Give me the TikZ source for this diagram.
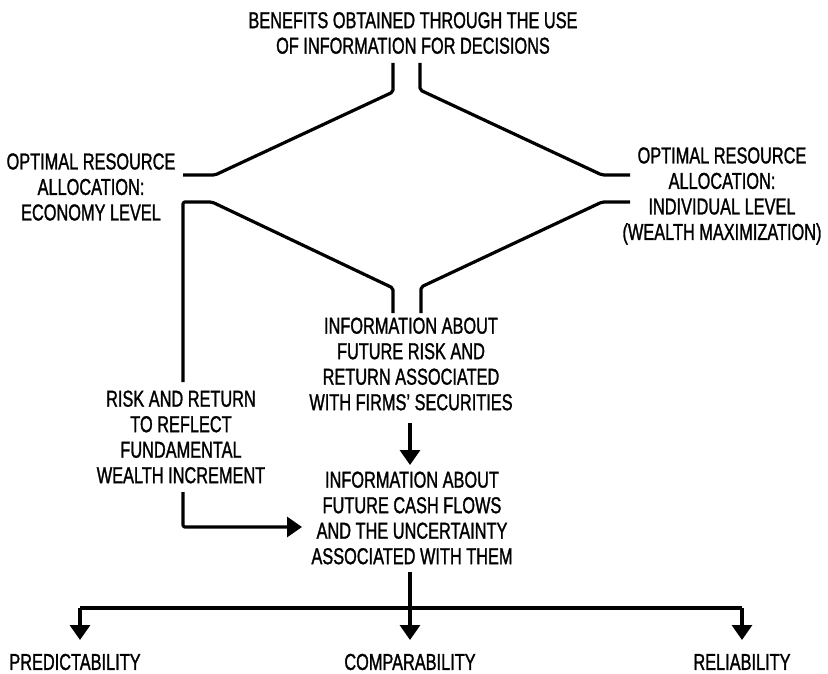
\documentclass[tikz,border=0pt]{standalone}
\usepackage{fontspec}
\setmainfont[FakeStretch=0.71,FakeBold=1.2]{Liberation Sans}
\usetikzlibrary{arrows.meta}
\begin{document}
\begin{tikzpicture}[x=1pt,y=-1pt,
  lbl/.style={align=center,inner sep=0pt,font=\fontsize{23}{25.5}\selectfont},
  ln/.style={line width=3.2pt,line join=round,rounded corners=2pt},
  arr/.style={ln,-{Triangle[width=20pt,length=15pt]}}]
\useasboundingbox (0,0) rectangle (828,674);
\node[lbl] (top) at (413,33) {BENEFITS OBTAINED THROUGH THE USE\\OF INFORMATION FOR DECISIONS};
\node[lbl] (econ) at (91,187) {OPTIMAL RESOURCE\\ALLOCATION:\\ECONOMY LEVEL};
\node[lbl] (indiv) at (722,196) {OPTIMAL RESOURCE\\ALLOCATION:\\INDIVIDUAL LEVEL\\(WEALTH MAXIMIZATION)};
\node[lbl] (risk) at (411,364) {INFORMATION ABOUT\\FUTURE RISK AND\\RETURN ASSOCIATED\\WITH FIRMS' SECURITIES};
\node[lbl] (reflect) at (181,437) {RISK AND RETURN\\TO REFLECT\\FUNDAMENTAL\\WEALTH INCREMENT};
\node[lbl] (cash) at (412,518) {INFORMATION ABOUT\\FUTURE CASH FLOWS\\AND THE UNCERTAINTY\\ASSOCIATED WITH THEM};
\node[lbl] (pred) at (75,662) {PREDICTABILITY};
\node[lbl] (comp) at (410,662) {COMPARABILITY};
\node[lbl] (rel) at (742,662) {RELIABILITY};
% coordinates
\coordinate (a1) at (393,63);
\coordinate (a2) at (420,63);
\coordinate (b1) at (393,313);
\coordinate (b2) at (421,313);
\coordinate (l1) at (183,175);
\coordinate (l2) at (183,202);
\coordinate (r1) at (630,175);
\coordinate (r2) at (630,202);
\coordinate (v1) at (183,382);
\coordinate (v2) at (183,492);
\coordinate (h) at (80,608);
\coordinate (hr) at (742,608);
\draw[ln] (a1) -- (393,92) -- (215,175) -- (l1);
\draw[ln] (a2) -- (420,90) -- (602,175) -- (r1);
\draw[ln] (b1) -- (393,288) -- (212,202) -- (l2) -- (v1);
\draw[ln] (b2) -- (421,287) -- (602,202) -- (r2);
\draw[arr] (v2) -- (183,527) -- (302,527);
\draw[arr] (410,423) -- (410,465);
\draw[arr] (410,572) -- (410,640);
\draw[arr] (h) -- (80,640);
\draw[ln] (h) -- (hr);
\draw[arr] (hr) -- (742,640);
\end{tikzpicture}
\end{document}
